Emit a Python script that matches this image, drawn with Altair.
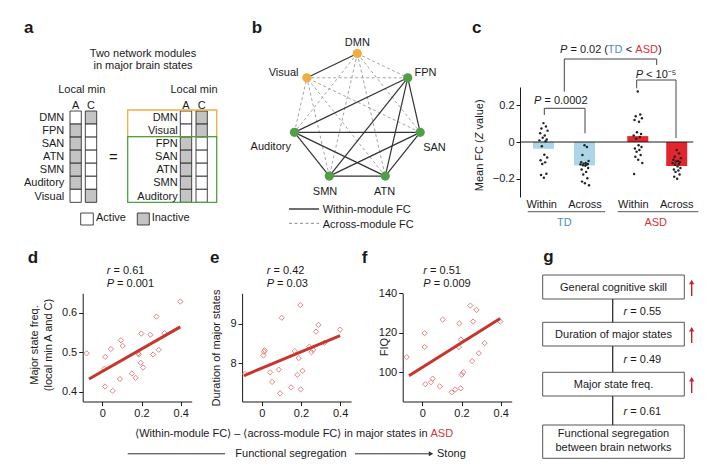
import math
import altair as alt
import pandas as pd

FONT = "Liberation Sans"
INK = "#1a1a1a"
TD_BAR = "#acd5e7"
ASD_BAR = "#e2262b"
TD_TXT = "#4b8dc2"
ASD_TXT = "#d6363b"
ORANGE = "#efae3f"
GREEN = "#4f9f48"
GRAY_CELL = "#c4c4c4"
DIAMOND = "#e28585"
FIT = "#c8352d"
RED_ARROW = "#c0282d"

# ---------------- data ----------------
a_left_nets = ["DMN", "FPN", "SAN", "ATN", "SMN", "Auditory", "Visual"]
a_right_nets = ["DMN", "Visual", "FPN", "SAN", "ATN", "SMN", "Auditory"]
a_active_in_A = ["DMN", "Visual"]          # active in local min A, inactive in C
a_states = ["A", "C"]

b_nodes = ["DMN", "FPN", "SAN", "ATN", "SMN", "Auditory", "Visual"]
b_module = ["M1", "M2", "M2", "M2", "M2", "M2", "M1"]

c_groups = ["TD", "TD", "ASD", "ASD"]
c_conds = ["Within", "Across", "Within", "Across"]
c_means = [-0.037, -0.128, 0.032, -0.131]
c_td_within = [0.103, 0.085, 0.074, 0.062, 0.048, 0.035, 0.023, 0.014, 0.009, 0.004,
               -0.023, -0.070, -0.085, -0.100, -0.111, -0.120, -0.173, -0.180, -0.195]
c_td_across = [-0.018, -0.027, -0.071, -0.103, -0.110, -0.115, -0.118, -0.120, -0.122, -0.124,
               -0.127, -0.130, -0.142, -0.150, -0.163, -0.177, -0.198, -0.216, -0.225, -0.236]
c_asd_within = [0.275, 0.150, 0.140, 0.130, 0.120, 0.110, 0.053, 0.044, 0.035, 0.027, 0.018,
                -0.018, -0.027, -0.035, -0.044, -0.053, -0.071, -0.080, -0.097, -0.115, -0.175]
c_asd_across = [-0.044, -0.062, -0.080, -0.088, -0.097, -0.103, -0.106, -0.110, -0.115, -0.120,
                -0.124, -0.133, -0.142, -0.150, -0.155, -0.163, -0.177, -0.190, -0.200]
c_jitter = [0.00, 0.06, -0.05, 0.10, -0.08, 0.03, -0.02, 0.08, -0.10, 0.05, -0.04,
            0.02, 0.09, -0.07, 0.04, -0.03, 0.07, -0.06, 0.01, 0.11, -0.09]

d_x = [-0.080, 0.015, 0.010, 0.014, 0.053, 0.044, 0.095, 0.104, 0.090, 0.151, 0.170,
       0.186, 0.183, 0.199, 0.196, 0.208, 0.245, 0.259, 0.276, 0.288, 0.317, 0.398]
d_y = [0.497, 0.488, 0.458, 0.413, 0.402, 0.508, 0.530, 0.516, 0.432, 0.446, 0.435,
       0.494, 0.497, 0.547, 0.473, 0.461, 0.544, 0.494, 0.590, 0.506, 0.548, 0.628]
d_fit_x = [-0.068, 0.398]
d_fit_y = [0.432, 0.564]

e_x = [-0.085, 0.012, 0.015, 0.009, 0.043, 0.053, 0.087, 0.094, 0.102, 0.150, 0.169, 0.189,
       0.182, 0.197, 0.199, 0.208, 0.243, 0.254, 0.262, 0.277, 0.289, 0.320, 0.400]
e_y = [7.73, 8.29, 8.33, 8.20, 7.77, 7.53, 7.84, 7.24, 9.15, 7.39, 8.31, 8.13,
       7.71, 9.47, 7.34, 7.81, 8.42, 8.28, 8.34, 8.80, 8.97, 8.52, 8.85]
e_fit_x = [-0.09, 0.40]
e_fit_y = [7.69, 8.70]

f_x = [-0.080, 0.012, 0.012, 0.015, 0.044, 0.053, 0.089, 0.104, 0.150, 0.168, 0.196, 0.186,
       0.189, 0.197, 0.201, 0.209, 0.245, 0.276, 0.259, 0.254, 0.288, 0.318, 0.398]
f_y = [107.7, 119.8, 112.8, 94.0, 95.0, 96.8, 92.9, 126.7, 89.9, 91.3, 91.9, 112.8,
       124.7, 116.6, 98.8, 100.0, 133.8, 131.6, 125.7, 105.7, 109.7, 114.8, 125.7]
f_fit_x = [-0.068, 0.397]
f_fit_y = [98.3, 127.2]

stats_def = [("r", "0.61", "P", "0.001"), ("r", "0.42", "P", "0.03"), ("r", "0.51", "P", "0.009")]

g_boxes = ["General cognitive skill", "Duration of major states", "Major state freq.",
           "Functional segregation|between brain networks"]
g_r = ["0.55", "0.49", "0.61"]

# ---------------- layout (page pixels) ----------------
PX = alt.Scale(domain=[8, 712], range=[0, 704], nice=False, zero=False)
PY = alt.Scale(domain=[8, 466], range=[0, 458], nice=False, zero=False)

T, R, RE = [], [], []


def add_t(t, x, y, size=11, color=INK, align="left", weight="normal", style="normal",
          angle=0, baseline="alphabetic"):
    T.append(dict(t=t, x=x, y=y, s=size, c=color, align=align, weight=weight,
                  style=style, angle=angle, baseline=baseline))


def add_r(x, y, x2, y2, color=INK, w=1.0, dash="solid"):
    R.append(dict(x=x, y=y, x2=x2, y2=y2, c=color, w=w, dash=dash))


def add_rect(x, y, x2, y2, fill, stroke=INK, sw=0.8):
    RE.append(dict(x=x, y=y, x2=x2, y2=y2, fill=fill, stroke=stroke, sw=sw))


def italic_lead(letter, rest, x, y, color=INK):
    add_t(letter, x, y, style="italic", color=color)
    lw = 3.7 if letter == "r" else 7.3
    add_t(rest, x + lw + 3.1, y, color=color)


# panel letters
for L, lx, ly in [("a", 24, 33), ("b", 251.7, 33), ("c", 472, 33), ("d", 27.7, 263),
                  ("e", 210, 263), ("f", 361.7, 263), ("g", 543.3, 262)]:
    add_t(L, lx, ly, size=17, weight="bold")

# ---- panel a ----
ROW_Y0, ROW_H = 111.0, 13.05
LEFT_COLS = {"A": (70.0, 81.3), "C": (85.3, 96.7)}
RIGHT_COLS = {"A": (180.3, 191.7), "C": (196.0, 207.3)}
add_t("Two network modules", 143, 56.7, align="center")
add_t("in major brain states", 143, 69.3, align="center")
for cx in (81.7, 194.0):
    add_t("Local min", cx, 93.3, align="center")
for cols in (LEFT_COLS, RIGHT_COLS):
    for st in a_states:
        add_t(st, (cols[st][0] + cols[st][1]) / 2, 108.5, align="center")
for nets, cols, lab_x in ((a_left_nets, LEFT_COLS, 64.3), (a_right_nets, RIGHT_COLS, 177.7)):
    for i, n in enumerate(nets):
        y0 = ROW_Y0 + ROW_H * i
        add_t(n, lab_x, y0 + 10.2, align="right")
        for st in a_states:
            active = (n in a_active_in_A) == (st == "A")
            add_rect(cols[st][0], y0, cols[st][1], y0 + ROW_H, "#ffffff" if active else GRAY_CELL)
add_t("=", 113.3, 162, size=15, align="center")
add_rect(127.7, 110.0, 216.7, 136.7, "transparent", ORANGE, 1.3)
add_rect(127.7, 136.7, 216.7, 202.3, "transparent", GREEN, 1.3)
add_rect(80.7, 213.0, 93.3, 225.0, "#ffffff")
add_rect(137.3, 213.0, 149.3, 225.0, GRAY_CELL)
add_t("Active", 96, 221, align="left")
add_t("Inactive", 151.7, 221, align="left")

# ---- panel b ----
B_CX, B_CY, B_R = 357.3, 118.0, 64.5
bx = [B_CX + B_R * math.sin(2 * math.pi * k / 7) for k in range(7)]
by = [B_CY - B_R * math.cos(2 * math.pi * k / 7) for k in range(7)]
for i in range(7):
    for j in range(i + 1, 7):
        if b_module[i] == b_module[j]:
            add_r(bx[i], by[i], bx[j], by[j], "#333333", 1.2, "solid")
        else:
            add_r(bx[i], by[i], bx[j], by[j], "#9a9a9a", 0.9, "dash")
node_df = pd.DataFrame({"x": bx, "y": by,
                        "c": [ORANGE if m == "M1" else GREEN for m in b_module]})
add_t("DMN", bx[0], 46, align="center")
add_t("FPN", bx[1] + 6.7, 76)
add_t("SAN", bx[2] + 3, 150.7)
add_t("ATN", bx[3] - 0.7, 194.7, align="center")
add_t("SMN", bx[4] - 4.3, 194.7, align="center")
add_t("Auditory", bx[5] - 3.5, 149.7, align="right")
add_t("Visual", bx[6] - 8.4, 76, align="right")
add_r(289, 209, 319, 209, "#222222", 1.3, "solid")
add_r(289, 223.3, 319, 223.3, "#8a8a8a", 1.0, "dash")
add_t("Within-module FC", 322.7, 213)
add_t("Across-module FC", 322.7, 227.7)

# ---- panel c annotations ----
# rotated axis title with italic Z (reads bottom to top)
add_t("Mean FC (", 480, 191.2, angle=270, align="left", baseline="middle")
add_t("Z", 480, 139.2, angle=270, align="left", baseline="middle", style="italic")
add_t("value)", 480, 129.4, angle=270, align="left", baseline="middle")
c_lab_x = [541.7, 585.0, 633.3, 676.7]
for lx, cond in zip(c_lab_x, c_conds):
    add_t(cond, lx, 208, align="center")
add_r(527.7, 211.7, 605.0, 211.7, "#555555", 1.0)
add_r(617.7, 211.7, 698.3, 211.7, "#555555", 1.0)
add_t("TD", 564.3, 226, color=TD_TXT, align="center")
add_t("ASD", 655.7, 226, color=ASD_TXT, align="center")
BR = "#444444"
add_r(544.3, 108.3, 585.0, 108.3, BR); add_r(544.3, 108.3, 544.3, 115.0, BR); add_r(585.0, 108.3, 585.0, 133.3, BR)
add_r(636.7, 80.0, 676.0, 80.0, BR); add_r(636.7, 80.0, 636.7, 88.3, BR); add_r(676.0, 80.0, 676.0, 138.0, BR)
add_r(564.3, 59.0, 656.7, 59.0, BR); add_r(564.3, 59.0, 564.3, 91.7, BR); add_r(656.7, 59.0, 656.7, 65.0, BR)
italic_lead("P", "= 0.0002", 534.0, 104.0)
italic_lead("P", "< 10\u207b\u2075", 635.7, 78.0)
add_t("P", 560.0, 53.3, style="italic")
add_t("= 0.02 (", 570.4, 53.3)
add_t("TD", 607.7, 53.3, color=TD_TXT)
add_t("<", 625.8, 53.3)
add_t("ASD", 635.3, 53.3, color=ASD_TXT)
add_t(")", 657.9, 53.3)

# ---- row 2 annotations ----
for (l1, v1, l2, v2), sx in zip(stats_def, (106.7, 266.7, 423.3)):
    italic_lead(l1, "= " + v1, sx, 274.3)
    italic_lead(l2, "= " + v2, sx, 287.3)
add_t("Major state freq.", 35.3, 345, angle=270, align="center", baseline="middle")
add_t("(local min A and C)", 49.0, 345, angle=270, align="center", baseline="middle")
add_t("Duration of major states", 217.2, 348, angle=270, align="center", baseline="middle")
add_t("FIQ", 385.2, 347, angle=270, align="center", baseline="middle")
add_t("\u27e8Within-module FC\u27e9 \u2013 \u27e8across-module FC\u27e9 in major states in", 427.5, 436.7, align="right")
add_t("ASD", 430.5, 436.7, color=ASD_TXT)
add_r(127.7, 453.8, 225.0, 453.8, "#333333", 1.0)
add_t("Functional segregation", 291, 456.7, align="center")
add_r(355.0, 453.8, 430.0, 453.8, "#333333", 1.0)
tri_right = pd.DataFrame({"x": [431.0], "y": [453.8]})
add_t("Stong", 437, 456.7)

# ---- panel g ----
G_X0, G_X1, G_LX = 542.7, 684.3, 612.7
G_BOX_Y = [(275.0, 299.0), (322.3, 346.0), (372.3, 396.0), (425.0, 458.3)]
for k, (lab, (y0, y1)) in enumerate(zip(g_boxes, G_BOX_Y)):
    add_rect(G_X0, y0, G_X1, y1, "#ffffff", "#555555", 1.0)
    lines = lab.split("|")
    if len(lines) == 1:
        add_t(lines[0], (G_X0 + G_X1) / 2, (y0 + y1) / 2 + 3.8, align="center")
    else:
        add_t(lines[0], (G_X0 + G_X1) / 2, y0 + 12.0, align="center")
        add_t(lines[1], (G_X0 + G_X1) / 2, y0 + 26.0, align="center")
    if k < 3:
        add_r(G_LX, y1, G_LX, G_BOX_Y[k + 1][0], "#333333", 1.3)
        italic_lead("r", "= " + g_r[k], 623.5, (y1 + G_BOX_Y[k + 1][0]) / 2 + 4.0)
        add_r(691.7, y1 - 3.0, 691.7, y0 + 8.0, RED_ARROW, 1.4)
arrow_up = pd.DataFrame({"x": [691.7] * 3, "y": [y0 + 7.0 for (y0, _) in G_BOX_Y[:3]]})

# ---------------- page-coordinate layers ----------------
def pxy(**extra):
    return dict(x=alt.X("x:Q", scale=PX, axis=None), y=alt.Y("y:Q", scale=PY, axis=None), **extra)


page_layers = []
re_df = pd.DataFrame(RE)
page_layers.append(alt.Chart(re_df).mark_rect().encode(
    **pxy(x2="x2:Q", y2="y2:Q", fill=alt.Fill("fill:N", scale=None),
          stroke=alt.Stroke("stroke:N", scale=None),
          strokeWidth=alt.StrokeWidth("sw:Q", scale=None))))
r_df = pd.DataFrame(R)
for dash, g in r_df.groupby("dash"):
    kw = {"strokeDash": [3, 2.5]} if dash == "dash" else {}
    page_layers.append(alt.Chart(g.reset_index(drop=True)).mark_rule(**kw).encode(
        **pxy(x2="x2:Q", y2="y2:Q", color=alt.Color("c:N", scale=None),
              strokeWidth=alt.StrokeWidth("w:Q", scale=None))))
page_layers.append(alt.Chart(node_df).mark_circle(size=85, opacity=1).encode(
    **pxy(color=alt.Color("c:N", scale=None))))
page_layers.append(alt.Chart(arrow_up).mark_point(shape="triangle-up", filled=True, size=28,
                                                  color=RED_ARROW, opacity=1).encode(**pxy()))
page_layers.append(alt.Chart(tri_right).mark_point(shape="triangle-right", filled=True, size=26,
                                                   color="#333333", opacity=1).encode(**pxy()))
t_df = pd.DataFrame(T)
for (align, weight, style, angle, baseline), g in t_df.groupby(["align", "weight", "style", "angle", "baseline"]):
    page_layers.append(alt.Chart(g.reset_index(drop=True)).mark_text(
        align=align, baseline=baseline, font=FONT, fontWeight=weight, fontStyle=style,
        angle=int(angle)).encode(
        **pxy(text="t:N", color=alt.Color("c:N", scale=None), size=alt.Size("s:Q", scale=None))))

# ---------------- data panels (every unit is a direct layer, so its axes are kept) ----------------
AX = dict(title=None, grid=False, tickSize=4, tickWidth=1, tickColor=INK, domainColor=INK,
          domainWidth=1, labelFont=FONT, labelFontSize=11, labelColor=INK, labelPadding=2,
          labelFlush=False)
ZERO_EXPR = "datum.value == 0 ? '0' : format(datum.value, '.1f')"

# panel c
c_pos = [1.0, 2.0, 3.3, 4.25]
CX = alt.Scale(domain=[0.427, 4.654], range=[512.0, 685.3], nice=False, zero=False)
CY = alt.Scale(domain=[-0.3, 0.3], range=[189.0, 79.0], nice=False, zero=False)
c_bar_df = pd.DataFrame({"lo": [p - 0.256 for p in c_pos], "hi": [p + 0.256 for p in c_pos],
                         "m": c_means, "z": [0.0] * 4,
                         "col": [TD_BAR if g == "TD" else ASD_BAR for g in c_groups]})
rows = []
for k, vals in enumerate([c_td_within, c_td_across, c_asd_within, c_asd_across]):
    for i, v in enumerate(vals):
        rows.append({"px": c_pos[k] + c_jitter[i], "v": v})
c_dot_df = pd.DataFrame(rows)
c_bars = alt.Chart(c_bar_df).mark_bar().encode(
    x=alt.X("lo:Q", scale=CX, axis=None), x2="hi:Q",
    y=alt.Y("m:Q", scale=CY, axis=alt.Axis(orient="left", offset=-512, values=[-0.2, 0, 0.2],
                                           labelExpr=ZERO_EXPR, **AX)),
    y2="z:Q", color=alt.Color("col:N", scale=None))
c_zero = alt.Chart(pd.DataFrame({"x": [0.427], "x2": [4.654], "y": [0.0]})).mark_rule(
    color=INK, strokeWidth=1).encode(x=alt.X("x:Q", scale=CX, axis=None), x2="x2:Q",
                                     y=alt.Y("y:Q", scale=CY, axis=None))
c_dots = alt.Chart(c_dot_df).mark_circle(size=6, color="#222222", opacity=1).encode(
    x=alt.X("px:Q", scale=CX, axis=None), y=alt.Y("v:Q", scale=CY, axis=None))
panel_c = [c_bars, c_zero, c_dots]


def scatter(xs, ys, fx, fy, xr, ydom, yvals, yexpr):
    X = alt.Scale(domain=[-0.1, 0.456], range=xr, nice=False, zero=False)
    Y = alt.Scale(domain=ydom, range=[393.5, 285.3], nice=False, zero=False)
    pts = alt.Chart(pd.DataFrame({"x": xs, "y": ys})).mark_point(
        shape="diamond", filled=False, color=DIAMOND, size=28, strokeWidth=1, opacity=1).encode(
        x=alt.X("x:Q", scale=X, axis=alt.Axis(orient="bottom", offset=393.5 - 458,
                                              values=[0, 0.2, 0.4], labelExpr=ZERO_EXPR, **AX)),
        y=alt.Y("y:Q", scale=Y, axis=alt.Axis(orient="left", offset=-xr[0], values=yvals,
                                              labelExpr=yexpr, **AX)))
    fit = alt.Chart(pd.DataFrame({"x": fx, "y": fy})).mark_line(color=FIT, strokeWidth=3).encode(
        x=alt.X("x:Q", scale=X, axis=None), y=alt.Y("y:Q", scale=Y, axis=None))
    return [pts, fit]


panel_d = scatter(d_x, d_y, d_fit_x, d_fit_y, [74.7, 183.7], [0.375, 0.649], [0.4, 0.5, 0.6],
                  "format(datum.value, '.1f')")
panel_e = scatter(e_x, e_y, e_fit_x, e_fit_y, [234.1, 343.1], [7.035, 9.768], [7, 8, 9],
                  "format(datum.value, 'd')")
panel_f = scatter(f_x, f_y, f_fit_x, f_fit_y, [394.7, 503.7], [85.25, 140.0], [100, 120, 140],
                  "format(datum.value, 'd')")

units = panel_c + panel_d + panel_e + panel_f + page_layers
chart = alt.layer(*units).resolve_scale(
    x="independent", y="independent").properties(
    width=704, height=458, autosize=alt.AutoSizeParams(type="none"), padding=0,
    background="#ffffff").configure_view(stroke=None)

chart.save("out.html", embed_options={"renderer": "svg", "actions": False})
